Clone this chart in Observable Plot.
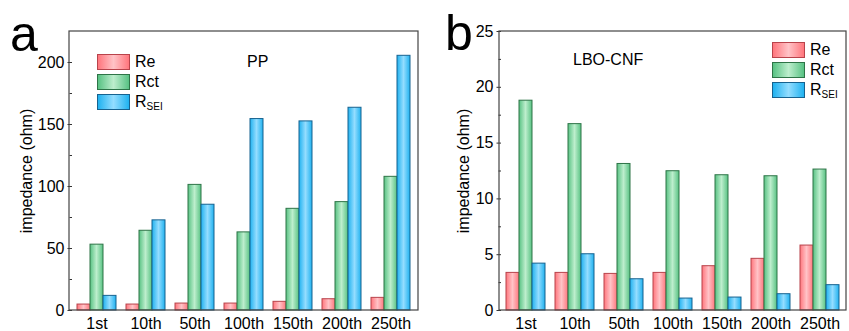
<!DOCTYPE html>
<html>
<head>
<meta charset="utf-8">
<script src="https://cdn.jsdelivr.net/npm/d3@7"></script>
<script src="https://cdn.jsdelivr.net/npm/@observablehq/plot@0.6"></script>
<style>
  html, body { margin: 0; padding: 0; background: #fff; }
  #chart { position: relative; width: 849px; height: 331px; overflow: hidden;
    font-family: "Liberation Sans", Arial, sans-serif; color: #000; }
  #chart .panel { position: absolute; top: 0; }
  .tag { position: absolute; font-size: 50px; line-height: 1; }
  .note { position: absolute; font-size: 16px; line-height: 1; white-space: nowrap; }
  .legend { position: absolute; font-size: 16px; }
  .legend .row { display: flex; align-items: center; height: 20px; }
  .legend .sw { width: 33px; height: 16px; box-sizing: border-box; border: 1px solid; margin-right: 5px; }
  .legend sub { font-size: 10px; vertical-align: -3px; }
</style>
</head>
<body>
<div id="chart"></div>
<script>
// Cycle numbers on the x axis
const cycles = ["1st", "10th", "50th", "100th", "150th", "200th", "250th"];
const seriesNames = ["Re", "Rct", "RSEI"];

// PP separator, impedance (ohm)
const ppRe   = [4.8, 4.8, 5.6, 5.6, 7.0, 9.1, 10.2];
const ppRct  = [53.1, 64.3, 101.3, 63.0, 82.0, 87.4, 107.8];
const ppRsei = [11.8, 72.7, 85.3, 154.4, 152.5, 163.5, 205.4];

// LBO-CNF separator, impedance (ohm)
const lboRe   = [3.37, 3.37, 3.28, 3.37, 3.97, 4.63, 5.82];
const lboRct  = [18.8, 16.7, 13.13, 12.48, 12.12, 12.03, 12.63];
const lboRsei = [4.2, 5.04, 2.8, 1.07, 1.16, 1.46, 2.27];

// Axis ticks
const ppTicks = [0, 50, 100, 150, 200];
const ppMinor = [25, 75, 125, 175];
const lboTicks = [0, 5, 10, 15, 20, 25];
const lboMinor = [2.5, 7.5, 12.5, 17.5, 22.5];

const gradients = {
  Re:   ["#ff767d", "#ffc3c7", "#ff767d"],
  Rct:  ["#58c283", "#bdeecd", "#58c283"],
  RSEI: ["#20b2f0", "#94ddff", "#20b2f0"]
};
const strokes = { Re: "#b8434b", Rct: "#2e7447", RSEI: "#17628f" };

// Shared gradient definitions (horizontal sheen across each bar)
const defs = d3.select("body").append("svg")
  .attr("width", 0).attr("height", 0).style("position", "absolute")
  .append("defs");
for (const s of seriesNames) {
  const g = defs.append("linearGradient").attr("id", `grad-${s}`)
    .attr("x1", "0").attr("x2", "1").attr("y1", "0").attr("y2", "0");
  gradients[s].forEach((c, i) => g.append("stop")
    .attr("offset", `${i * 50}%`).attr("stop-color", c));
}

function rowsOf(re, rct, rsei) {
  const cols = { Re: re, Rct: rct, RSEI: rsei };
  return cycles.flatMap((c, i) => seriesNames.map(s => ({ cycle: c, series: s, value: cols[s][i] })));
}

function panel({ rows, yMax, ticks, minor, width, marginLeft, marginRight, labelOffset }) {
  const chart = Plot.plot({
    width, height: 331,
    marginTop: 31, marginBottom: 21, marginLeft, marginRight,
    style: { fontFamily: "Liberation Sans, Arial, sans-serif", fontSize: "16px", color: "#000", background: "transparent", overflow: "visible" },
    fx: { domain: cycles, padding: 0 },
    x: { domain: seriesNames, paddingInner: 0, paddingOuter: 0.375, axis: null },
    y: { domain: [0, yMax] },
    marks: [
      ...seriesNames.map(s => Plot.barY(rows.filter(d => d.series === s), {
        fx: "cycle", x: "series", y: "value",
        fill: `url(#grad-${s})`, stroke: strokes[s], strokeWidth: 1
      })),
      Plot.axisY({ ticks, tickSize: 4.5, tickPadding: 3.5, stroke: "#333",
        label: "impedance (ohm)", labelAnchor: "center", labelArrow: "none", labelOffset }),
      Plot.axisY({ ticks: minor, tickSize: 2.5, tickFormat: () => "", label: null, stroke: "#333" }),
      Plot.axisFx({ anchor: "bottom", tickSize: 0, tickPadding: 7, label: null })
    ]
  });
  // Box around the plotting area
  const fx = chart.scale("fx").range, y = chart.scale("y").range;
  d3.select(chart).append("rect")
    .attr("x", Math.min(...fx)).attr("y", Math.min(...y))
    .attr("width", Math.abs(fx[1] - fx[0])).attr("height", Math.abs(y[1] - y[0]))
    .attr("fill", "none").attr("stroke", "#444").attr("stroke-width", 1.2);
  return chart;
}

function legend(left, top) {
  const box = document.createElement("div");
  box.className = "legend";
  box.style.left = left + "px"; box.style.top = top + "px";
  const labels = { Re: "Re", Rct: "Rct", RSEI: "R<sub>SEI</sub>" };
  for (const s of seriesNames) {
    const g = gradients[s];
    box.insertAdjacentHTML("beforeend",
      `<div class="row"><div class="sw" style="background:linear-gradient(to right, ${g[0]}, ${g[1]}, ${g[2]});border-color:${strokes[s]}"></div><span>${labels[s]}</span></div>`);
  }
  return box;
}

const root = document.getElementById("chart");

const a = panel({ rows: rowsOf(ppRe, ppRct, ppRsei), yMax: 225, ticks: ppTicks, minor: ppMinor,
  width: 430, marginLeft: 69, marginRight: 12, labelOffset: 52 });
a.classList.add("panel"); a.style.left = "0px";
root.appendChild(a);

const b = panel({ rows: rowsOf(lboRe, lboRct, lboRsei), yMax: 25, ticks: lboTicks, minor: lboMinor,
  width: 419, marginLeft: 69, marginRight: 3, labelOffset: 44 });
b.classList.add("panel"); b.style.left = "430px";
root.appendChild(b);

root.insertAdjacentHTML("beforeend", `
  <div class="tag" style="left:10px;top:9px">a</div>
  <div class="tag" style="left:445px;top:8px">b</div>
  <div class="note" style="left:247px;top:54px">PP</div>
  <div class="note" style="left:573px;top:52px">LBO-CNF</div>`);
root.appendChild(legend(97, 52));
root.appendChild(legend(772, 40));
</script>
</body>
</html>
